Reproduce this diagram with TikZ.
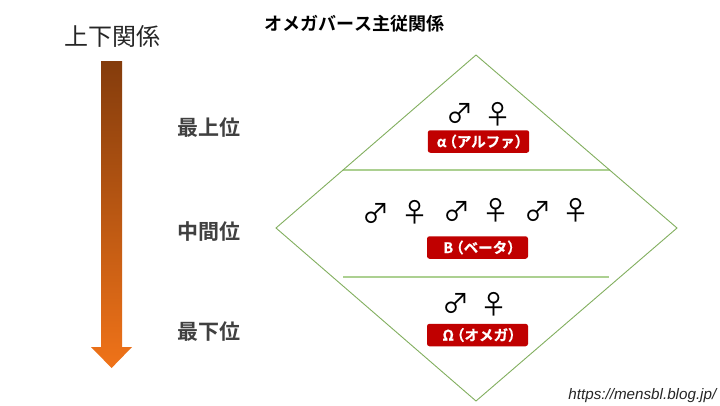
\documentclass[tikz,border=0pt]{standalone}
\usepackage{fontspec}
\setmainfont{Liberation Sans}
\newfontfamily\cjk{Noto Sans CJK JP}
\newfontfamily\cjkb{Noto Sans CJK JP Bold}
\newfontfamily\cjkh[FakeBold=0.5]{Noto Sans CJK JP Bold}
\definecolor{dgreen}{RGB}{130,175,95}
\definecolor{lgreen}{RGB}{172,208,145}
\definecolor{badge}{RGB}{192,0,0}
\definecolor{brownT}{RGB}{132,60,12}
\definecolor{orangeB}{RGB}{240,115,25}
\definecolor{grayT}{RGB}{64,64,64}
\tikzset{
  x=1pt,y=-1pt,
  outline/.style={draw=dgreen,line width=0.9pt,line join=miter},
  divider/.style={draw=lgreen,line width=1.3pt},
  badgebox/.style={fill=badge,rounded corners=2.5pt,minimum width=101pt,minimum height=22.5pt,inner sep=0pt,text=white,font=\cjkh\fontsize{14.5}{14.5}\selectfont},
  rank/.style={font=\cjkb\fontsize{21}{21}\selectfont,text=grayT,inner sep=0pt},
  sex/.style={font=\cjk\fontsize{27}{27}\selectfont,text=black,inner sep=0pt},
}
\begin{document}
\begin{tikzpicture}
\useasboundingbox (0,0) rectangle (720,405);
\fill[white] (0,0) rectangle (720,405);
\node[font=\cjkb\fontsize{18}{18}\selectfont,inner sep=0pt] (title) at (354.5,23.5) {オメガバース主従関係};
\node[font=\cjk\fontsize{24}{24}\selectfont,text=black!85,inner sep=0pt] (rel) at (112,36) {上下関係};
\shade[top color=brownT,bottom color=orangeB,shading angle=0]
  (101,61) -- (122,61) -- (122,347) -- (132,347) -- (111.6,368) -- (91,347) -- (101,347) -- cycle;
\coordinate (T) at (476,55);
\coordinate (L) at (276,228);
\coordinate (R) at (677,228);
\coordinate (B) at (476,401);
\coordinate (a1) at (342.5,170); \coordinate (a2) at (609.5,170);
\coordinate (b1) at (343,277); \coordinate (b2) at (609,277);
\draw[divider] (a1) -- (a2);
\draw[divider] (b1) -- (b2);
\draw[outline] (T) -- (R) -- (B) -- (L) -- cycle;
\node[rank] (r1) at (209,127.5) {最上位};
\node[rank] (r2) at (209,231.5) {中間位};
\node[rank] (r3) at (209,331.5) {最下位};
\node[badgebox] (ba) at (478.5,141.5) {\hspace{9pt}α\hspace{-4pt}（アルファ）};
\node[badgebox] (bb) at (477.5,247.5) {\hspace{10pt}B\hspace{-4pt}（ベータ）};
\node[badgebox] (bc) at (477.5,335) {\hspace{10pt}Ω\hspace{-4pt}（オメガ）};
\node[sex] (s1) at (459.5,113.5) {♂};
\node[sex] (s2) at (498,114) {♀};
\node[sex] (s3) at (376,213.5) {♂};
\node[sex] (s4) at (415,212) {♀};
\node[sex] (s5) at (457,211.5) {♂};
\node[sex] (s6) at (496,210) {♀};
\node[sex] (s7) at (538,211.5) {♂};
\node[sex] (s8) at (576,210) {♀};
\node[sex] (s9) at (455.5,303.5) {♂};
\node[sex] (s10) at (493.5,304) {♀};
\node[font=\itshape\fontsize{15.2}{15}\selectfont,text=black!85,inner sep=0pt,anchor=east] (url) at (716.5,396) {https://mensbl.blog.jp/};
\end{tikzpicture}
\end{document}
